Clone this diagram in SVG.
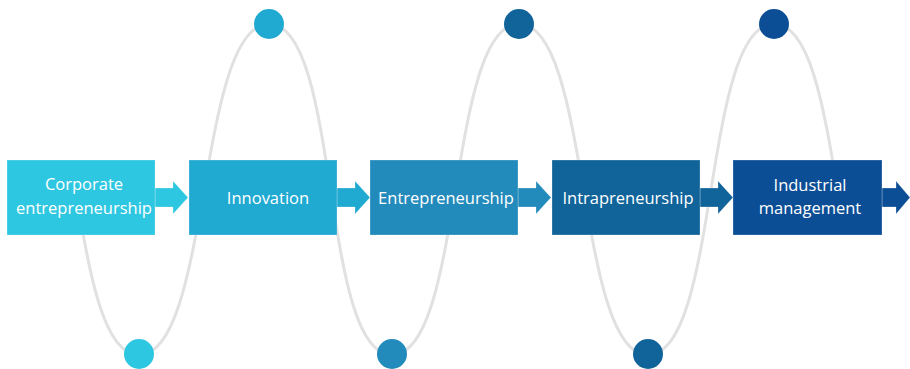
<svg xmlns="http://www.w3.org/2000/svg" width="910" height="369" viewBox="0 0 910 369">
<style>
.wave{fill:none;stroke:#e1e1e1;stroke-width:3}
.box{stroke:#ffffff;stroke-opacity:0.25;stroke-width:1}
.lbl{font-family:"Open Sans","Noto Sans",sans-serif;font-size:16.5px;fill:#ffffff;text-anchor:middle}
.c1{fill:#2ec7e1}.c2{fill:#20a9d1}.c3{fill:#238bbb}.c4{fill:#11649a}.c5{fill:#0c4e95}
</style>
<rect width="910" height="369" fill="#ffffff"/>
<g id="connectors">
<path class="wave" d="M75.5,189.5 C89.25,272.25 103,355 139,355 C211,355 197,24 269,24 C341,24 320,355 392,355 C464,355 447,24 519,24 C591,24 576,355 648,355 C720,355 702,24 774,24 C810,24 823.75,106.75 837.5,189.5"/>
<path class="c1 box" d="M155,188 H173 V181 L188,197.5 L173,214 V207 H155 Z"/>
<path class="c2 box" d="M337,188 H355 V181 L370,197.5 L355,214 V207 H337 Z"/>
<path class="c3 box" d="M518,188 H536 V181 L551,197.5 L536,214 V207 H518 Z"/>
<path class="c4 box" d="M700,188 H718 V181 L733,197.5 L718,214 V207 H700 Z"/>
<path class="c5 box" d="M882,188 H896 V181 L910,197.5 L896,214 V207 H882 Z"/>
</g>
<g id="dots">
<circle class="c1" cx="139" cy="354" r="15"/>
<circle class="c2" cx="269" cy="24" r="15"/>
<circle class="c3" cx="392" cy="354" r="15"/>
<circle class="c4" cx="519" cy="24" r="15"/>
<circle class="c4" cx="648" cy="354" r="15"/>
<circle class="c5" cx="774" cy="24" r="15"/>
</g>
<g id="node1">
<rect class="c1 box" x="7" y="160" width="148" height="75"/>
<text class="lbl" x="84" y="190">Corporate</text>
<text class="lbl" x="84" y="214">entrepreneurship</text>
</g>
<g id="node2">
<rect class="c2 box" x="189" y="160" width="148" height="75"/>
<text class="lbl" x="268" y="204">Innovation</text>
</g>
<g id="node3">
<rect class="c3 box" x="370" y="160" width="148" height="75"/>
<text class="lbl" x="446" y="204">Entrepreneurship</text>
</g>
<g id="node4">
<rect class="c4 box" x="552" y="160" width="148" height="75"/>
<text class="lbl" x="628" y="204">Intrapreneurship</text>
</g>
<g id="node5">
<rect class="c5 box" x="733" y="160" width="149" height="75"/>
<text class="lbl" x="810" y="191">Industrial</text>
<text class="lbl" x="810" y="214">management</text>
</g>
</svg>
